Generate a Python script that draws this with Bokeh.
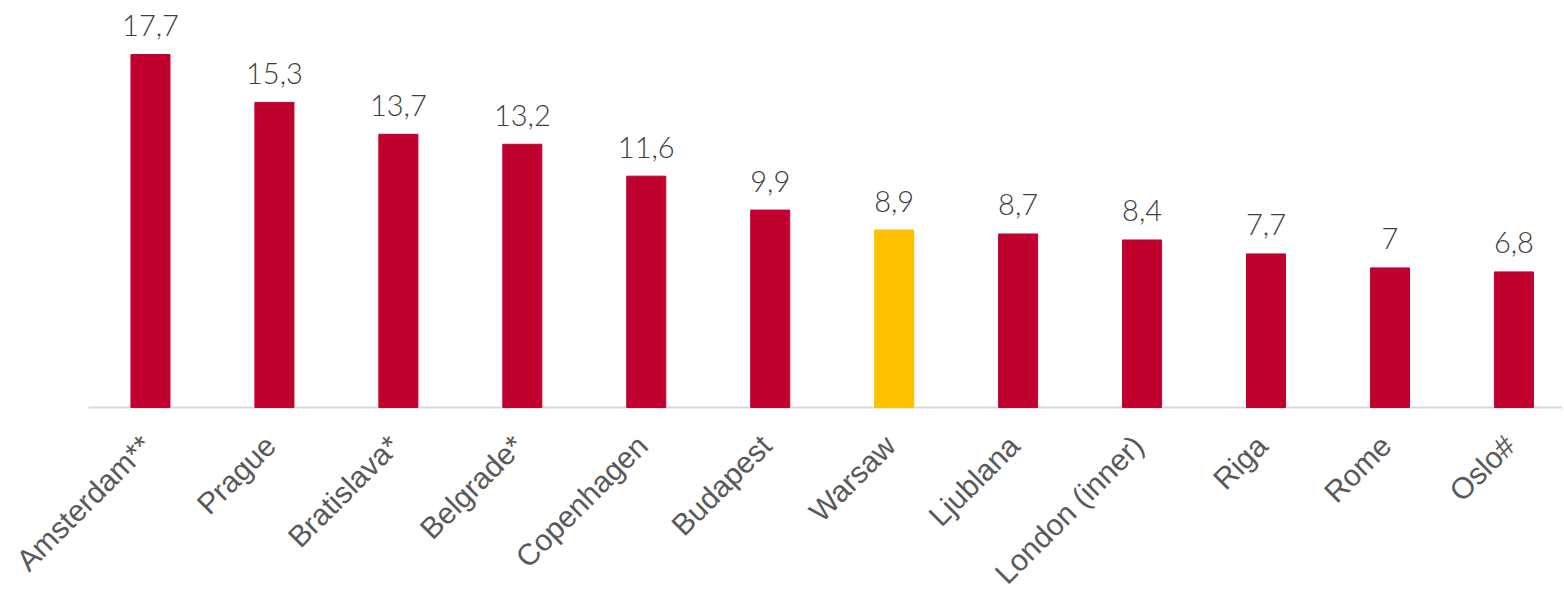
import math
from bokeh.plotting import figure
from bokeh.models import ColumnDataSource, Range1d
from bokeh.core.properties import value
from bokeh.embed import file_html
from bokeh.resources import INLINE

cities = ["Amsterdam**", "Prague", "Bratislava*", "Belgrade*", "Copenhagen", "Budapest",
          "Warsaw", "Ljublana", "London (inner)", "Riga", "Rome", "Oslo#"]
values = [17.7, 15.3, 13.7, 13.2, 11.6, 9.9, 8.9, 8.7, 8.4, 7.7, 7.0, 6.8]
highlight = "Warsaw"

RED = "#C0002F"
YELLOW = "#FFC000"

def fmt(v):
    s = ("%.1f" % v)
    if s.endswith(".0"):
        s = s[:-2]
    return s.replace(".", ",")

n = len(cities)
src = ColumnDataSource(dict(
    pos=list(range(n)),
    city=cities,
    val=values,
    zero=[0] * n,
    label=[fmt(v) for v in values],
    color=[YELLOW if c == highlight else RED for c in cities],
))

p = figure(x_range=Range1d(-1.21, n - 0.608), y_range=Range1d(-9.33, 20.41),
           width=1562, height=593, output_backend="svg", toolbar_location=None,
           min_border_left=0, min_border_right=0, min_border_top=0, min_border_bottom=0)

# axis baseline
p.line(x=[-0.5, n - 0.608], y=[0, 0], line_color="#D9D9D9", line_width=2)

p.vbar(x="pos", top="val", width=0.315, color="color", source=src)

# value labels
p.text(x="pos", y="val", text="label", source=src, text_align="center",
       text_baseline="alphabetic", y_offset=-29, text_font=value("Lato Light, Lato"),
       text_font_size="29px", text_color="#404040")

# category labels (rotated)
p.text(x="pos", y="zero", text="city", source=src, angle=math.pi / 4,
       text_align="right", text_baseline="middle", x_offset=-4, y_offset=33,
       text_font=value("Liberation Sans"), text_font_size="30px", text_color="#595959")

p.outline_line_color = None
p.xgrid.visible = False
p.ygrid.visible = False
p.xaxis.visible = False
p.yaxis.visible = False

open("out.html", "w").write(file_html(p, INLINE))
